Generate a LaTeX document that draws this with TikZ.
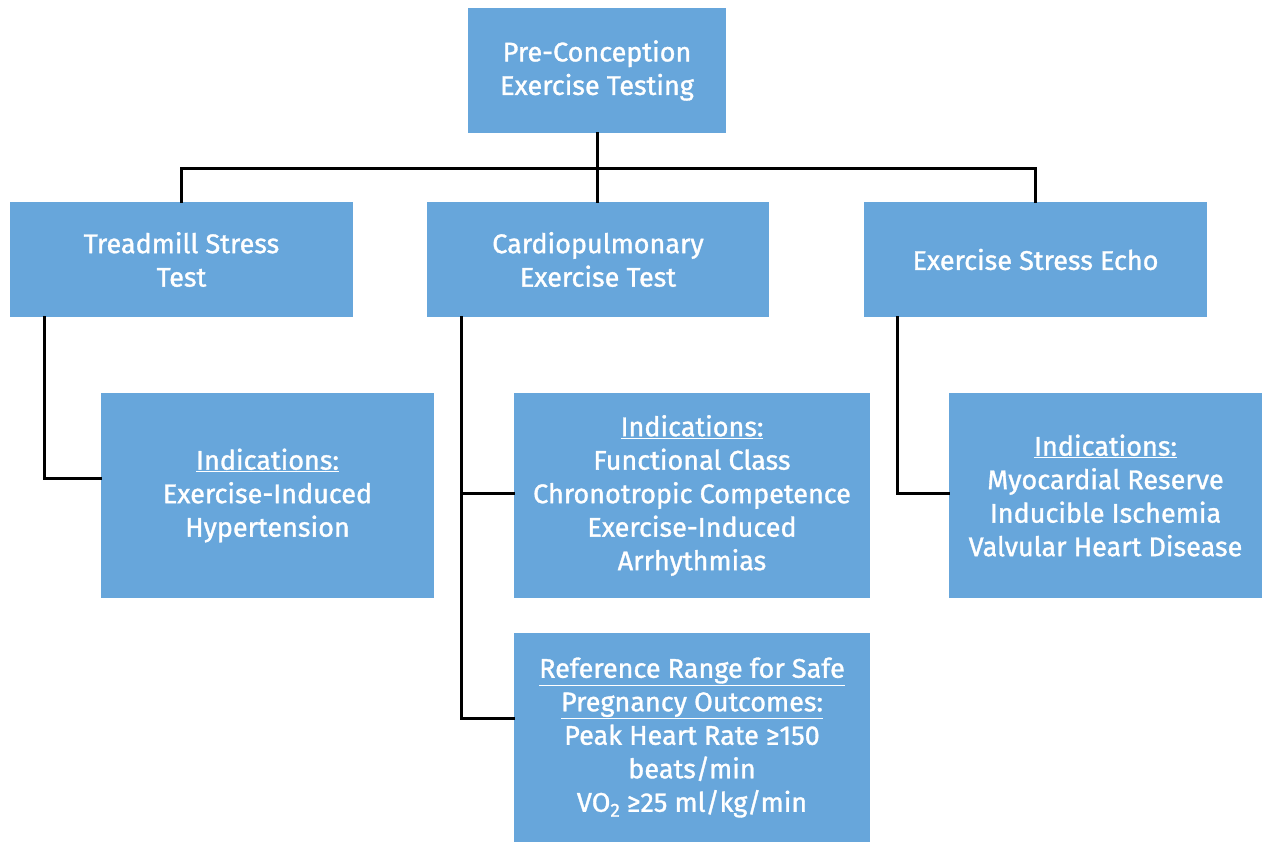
\documentclass[tikz,border=0pt]{standalone}
\usepackage{fontspec}
\setmainfont{Fira Sans}[FakeBold=1.2]
\definecolor{boxblue}{HTML}{67A6DB}
\newcommand{\ul}[1]{\underline{#1}}
\begin{document}
\begin{tikzpicture}[x=1pt,y=-1pt,
  box/.style={fill=boxblue, text=white, align=center, inner sep=0pt,
    font=\fontsize{27}{33.5}\selectfont},
  conn/.style={line width=3pt, black, line cap=rect}]
\useasboundingbox (0,0) rectangle (1263,842);
\fill[white] (0,0) rectangle (1263,842);
\node[box, minimum width=258pt, minimum height=125pt] (top) at (597,70.5) {Pre-Conception\\Exercise Testing};
\node[box, minimum width=343pt, minimum height=115pt] (tread) at (181.5,259.5) {Treadmill Stress\\Test};
\node[box, minimum width=342pt, minimum height=115pt] (cpet) at (598,259.5) {Cardiopulmonary\\Exercise Test};
\node[box, minimum width=343pt, minimum height=115pt] (echo) at (1035.5,259.5) {Exercise Stress Echo};
\node[box, minimum width=333pt, minimum height=205pt] (tind) at (267.5,495.5) {\ul{Indications:}\\Exercise-Induced\\Hypertension};
\node[box, minimum width=356pt, minimum height=205pt] (cind) at (692,495.5) {\ul{Indications:}\\Functional Class\\Chronotropic Competence\\Exercise-Induced\\Arrhythmias};
\node[box, minimum width=313pt, minimum height=205pt] (eind) at (1105.5,495.5) {\ul{Indications:}\\Myocardial Reserve\\Inducible Ischemia\\Valvular Heart Disease};
\node[box, minimum width=356pt, minimum height=209pt] (ref) at (692,737.5) {\ul{Reference Range for Safe}\\\ul{Pregnancy Outcomes:}\\Peak Heart Rate ≥150\\beats/min\\VO\raisebox{-0.35ex}{\fontsize{19}{19}\selectfont 2} ≥25 ml/kg/min};
\coordinate (bus) at ([yshift=-35pt]top.south);
\coordinate (cx) at ([xshift=35pt]cpet.south west);
\coordinate (cw) at ([yshift=2.5pt]cind.west);
\draw[conn] (top.south) -- (bus);
\draw[conn] (tread.north) |- (bus) -| (echo.north);
\draw[conn] (bus) -- (bus |- cpet.north);
\draw[conn] ([xshift=35pt]tread.south west) |- ([yshift=17.5pt]tind.west);
\draw[conn] (cx) |- ([yshift=19.5pt]ref.west);
\draw[conn] (cx |- cw) -- (cw);
\draw[conn] ([xshift=34pt]echo.south west) |- ([yshift=2.5pt]eind.west);
\end{tikzpicture}
\end{document}
